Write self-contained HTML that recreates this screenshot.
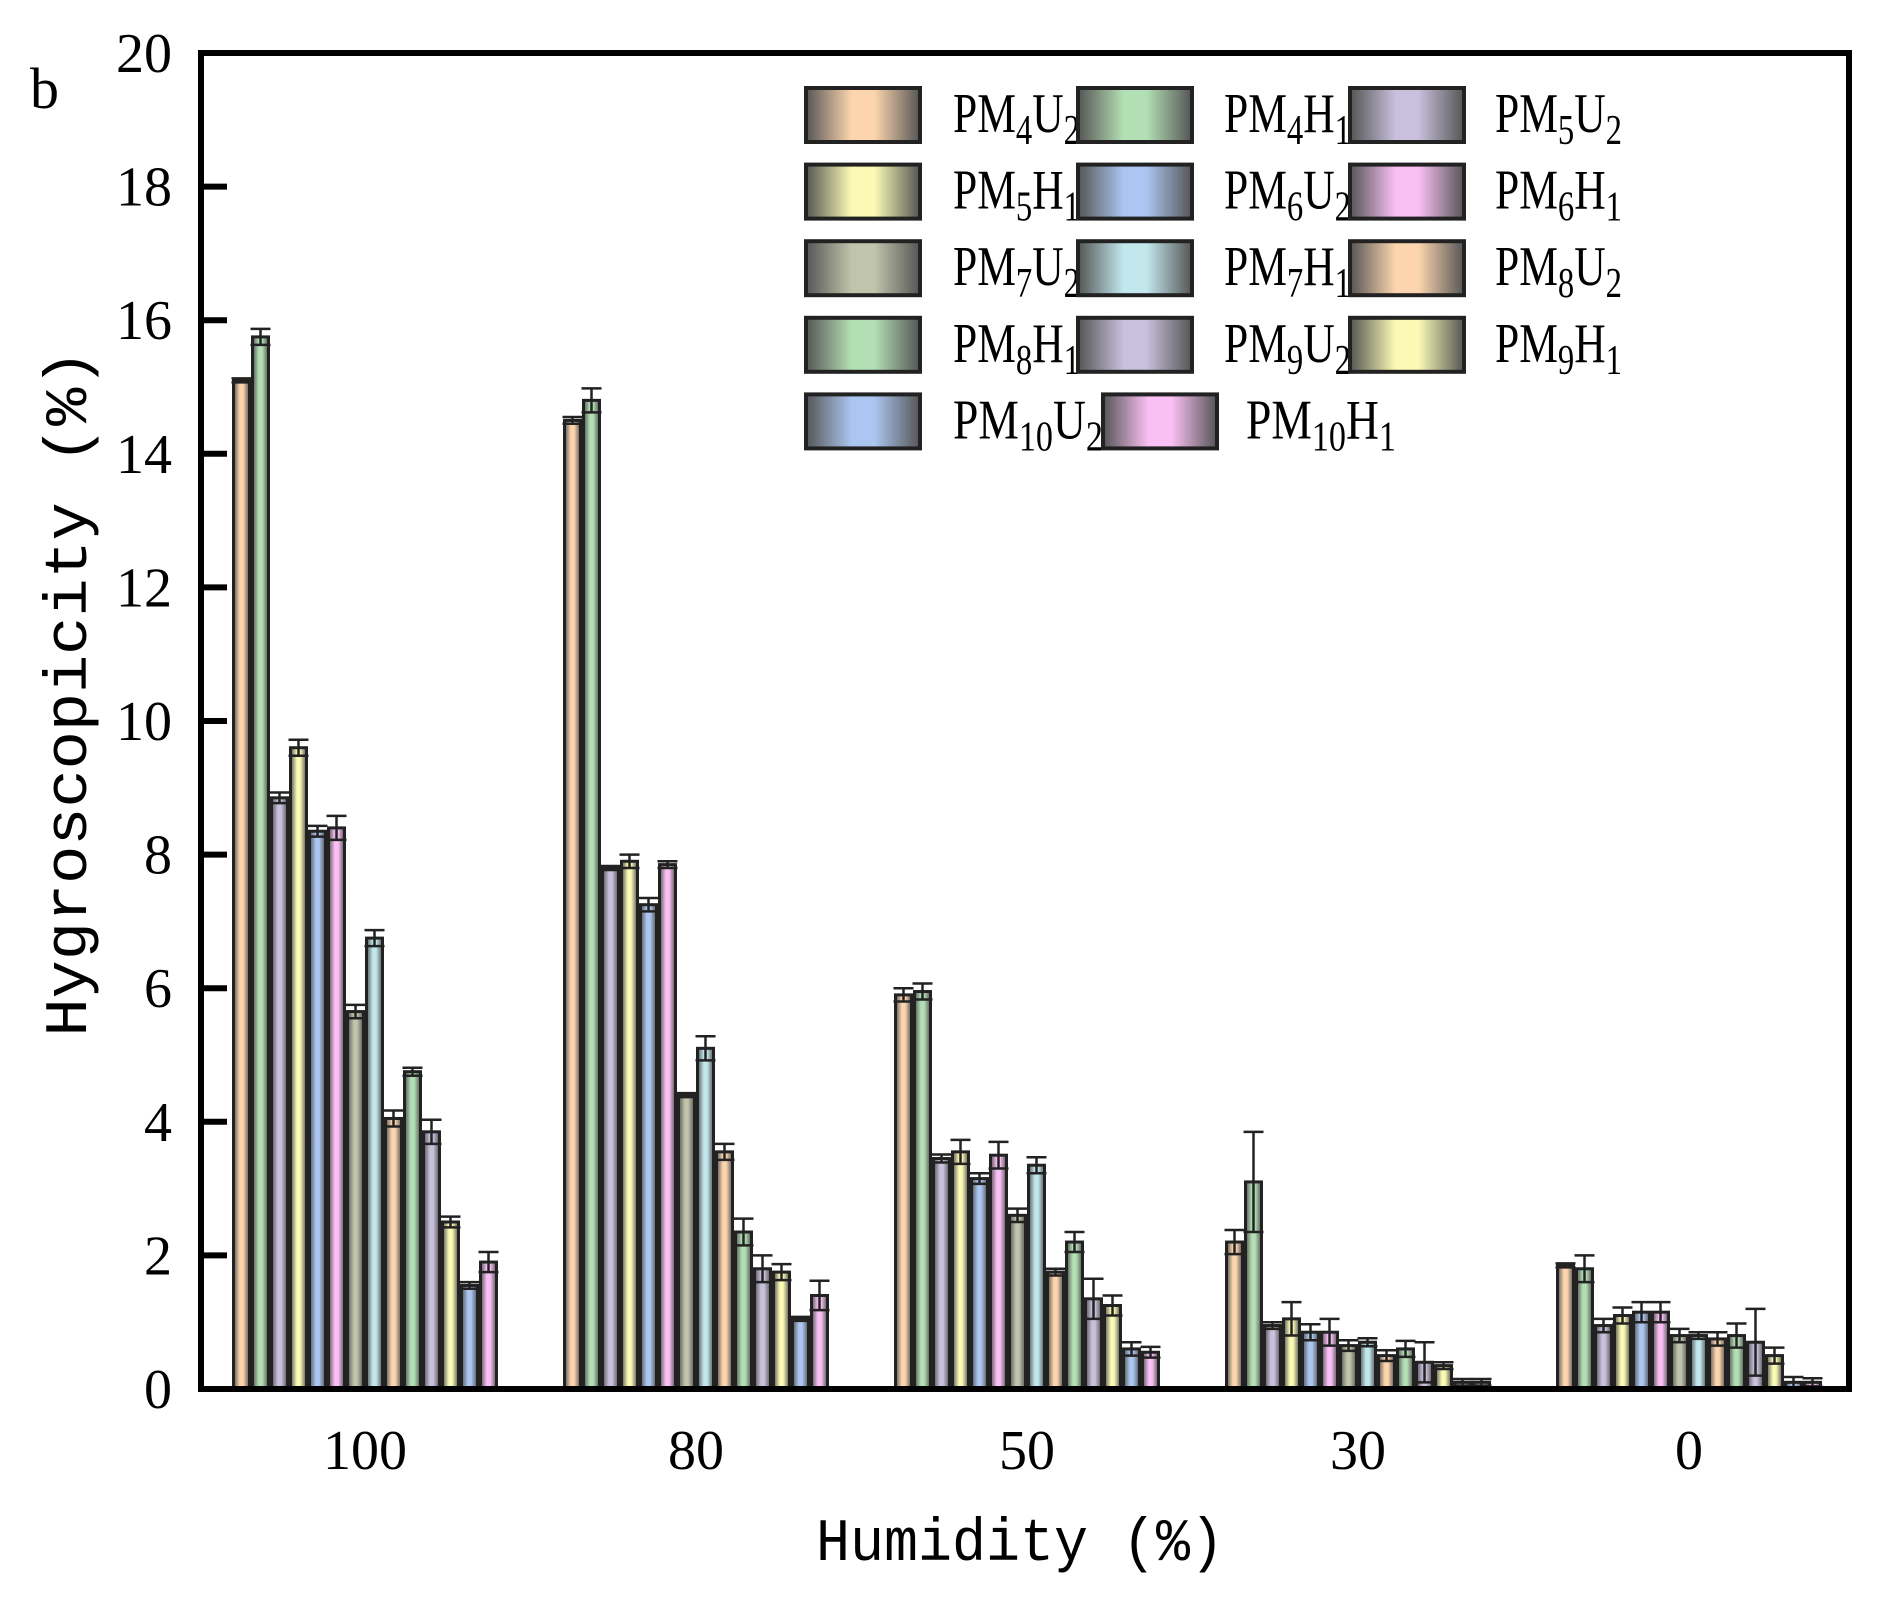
<!DOCTYPE html>
<html><head><meta charset="utf-8"><style>
html,body{margin:0;padding:0;background:#fff;}
svg{display:block;}
text{font-family:"Liberation Serif",serif;fill:#000;}
</style></head><body>
<svg id="s" width="1881" height="1604" xmlns="http://www.w3.org/2000/svg">
<defs id="d"></defs>
<g id="bars"></g>
<rect x="201" y="53" width="1648" height="1336" fill="none" stroke="#000" stroke-width="6"/>
<g id="ax"></g>
<text x="30" y="108" font-size="58">b</text>
<text transform="translate(86,693) rotate(-90)" font-size="60" text-anchor="middle" textLength="687" lengthAdjust="spacingAndGlyphs" style="font-family:'Liberation Mono',monospace">Hygroscopicity (%)</text>
<text x="1020" y="1560" font-size="60" text-anchor="middle" textLength="408" lengthAdjust="spacingAndGlyphs" style="font-family:'Liberation Mono',monospace">Humidity (%)</text>
<g id="leg"></g>
</svg>
<script>
const NS="http://www.w3.org/2000/svg";
function el(t,a,p){const e=document.createElementNS(NS,t);for(const k in a)e.setAttribute(k,a[k]);(p||document.getElementById('bars')).appendChild(e);return e;}
const cols=["#fcd5ae","#b3dfb4","#c8c0dc","#fafab4","#abc6f0","#fac0f5","#c0c4aa","#c2e8ee","#fcd5ae","#b3dfb4","#c8c0dc","#fafab4","#abc6f0","#fac0f5"];
const defs=document.getElementById('d');
cols.forEach((c,i)=>{const g=el('linearGradient',{id:'g'+i,x1:0,x2:1,y1:0,y2:0},defs);
el('stop',{offset:'0',"stop-color":"#555"},g);el('stop',{offset:'0.4',"stop-color":c},g);el('stop',{offset:'0.6',"stop-color":c},g);el('stop',{offset:'1',"stop-color":"#555"},g);});
const vals=[[15.1,15.75,8.85,9.6,8.35,8.4,5.65,6.75,4.05,4.75,3.85,2.5,1.55,1.9],
[14.5,14.8,7.8,7.9,7.25,7.85,4.4,5.1,3.55,2.35,1.8,1.75,1.05,1.4],
[5.9,5.95,3.45,3.55,3.15,3.5,2.6,3.35,1.75,2.2,1.35,1.25,0.6,0.55],
[2.2,3.1,0.95,1.05,0.85,0.85,0.65,0.7,0.5,0.6,0.4,0.35,0.1,0.1],
[1.85,1.8,0.95,1.1,1.15,1.15,0.8,0.8,0.75,0.8,0.7,0.5,0.1,0.1]];
const errs=[[0.03,0.12,0.08,0.12,0.08,0.18,0.1,0.12,0.12,0.06,0.18,0.08,0.05,0.15],
[0.05,0.18,0.03,0.1,0.1,0.05,0.03,0.18,0.12,0.2,0.2,0.12,0.03,0.22],
[0.1,0.12,0.06,0.18,0.08,0.2,0.1,0.12,0.05,0.15,0.3,0.15,0.1,0.08],
[0.18,0.75,0.05,0.25,0.12,0.2,0.08,0.06,0.08,0.12,0.3,0.05,0.05,0.05],
[0.03,0.2,0.1,0.12,0.15,0.15,0.1,0.05,0.1,0.18,0.5,0.12,0.08,0.06]];
const centers=[365,696,1027,1358,1689],Y0=1389,S=66.8,W=19;
const labels=["100","80","50","30","0"];
vals.forEach((g,gi)=>{g.forEach((v,i)=>{const x=centers[gi]-133+i*W,y=Y0-v*S;
el('rect',{x:x+1.5,y:y,width:W-3,height:v*S,fill:'url(#g'+i+')',stroke:'#222',"stroke-width":3});
const e=errs[gi][i]*S,cx=x+W/2;
el('line',{x1:cx,x2:cx,y1:y-e,y2:y+e,stroke:'#222',"stroke-width":2.5});
el('line',{x1:cx-10,x2:cx+10,y1:y-e,y2:y-e,stroke:'#222',"stroke-width":2.5});
el('line',{x1:cx-10,x2:cx+10,y1:y+e,y2:y+e,stroke:'#222',"stroke-width":2.5});});
const t=el('text',{x:centers[gi],y:1469,"font-size":56,"text-anchor":"middle"},document.getElementById('ax'));t.textContent=labels[gi];});
const ax=document.getElementById('ax');
for(let v=0;v<=20;v+=2){const y=Y0-v*S;
if(v>0&&v<20)el('line',{x1:201,x2:227,y1:y,y2:y,stroke:'#000',"stroke-width":6},ax);
const t=el('text',{x:172,y:y+19,"font-size":56,"text-anchor":"end"},ax);t.textContent=v;}
const leg=document.getElementById('leg');
const names=[["4","U","2"],["4","H","1"],["5","U","2"],["5","H","1"],["6","U","2"],["6","H","1"],["7","U","2"],["7","H","1"],["8","U","2"],["8","H","1"],["9","U","2"],["9","H","1"],["10","U","2"],["10","H","1"]];
const bx=[806,1078,1350],tx=[953,1224,1495];
names.forEach((n,i)=>{const r=Math.floor(i/3),c=i%3;let x=bx[c],txx=tx[c];
if(i==13){x=1103;txx=1246;}
const y=88+r*76.6;
el('rect',{x:x,y:y,width:114,height:54,fill:'url(#g'+i+')',stroke:'#222',"stroke-width":4},leg);
const t=el('text',{x:txx,y:y+44,"font-size":56,textLength:n[0].length>1?150:127,lengthAdjust:"spacingAndGlyphs"},leg);
t.innerHTML='PM<tspan dy="12" font-size="42">'+n[0]+'</tspan><tspan dy="-12">'+n[1]+'</tspan><tspan dy="12" font-size="42">'+n[2]+'</tspan>';});
</script>
</body></html>
